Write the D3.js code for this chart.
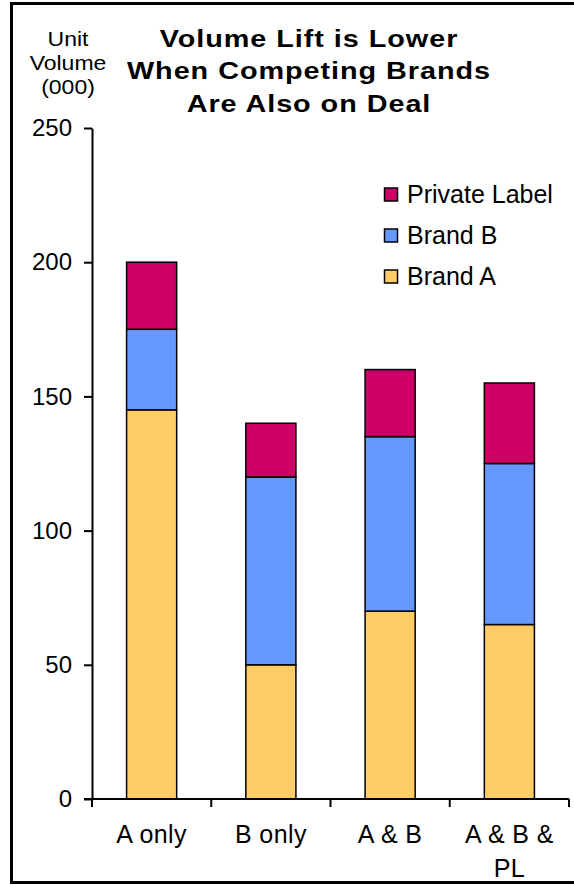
<!DOCTYPE html>
<html><head><meta charset="utf-8">
<script src="https://cdn.jsdelivr.net/npm/d3@7"></script>
<style>body{margin:0;background:#fff}svg{display:block}</style>
</head><body>
<script>
const categories = ["A only", "B only", "A & B", "A & B & PL"];
const brandA = [145, 50, 70, 65];
const brandB = [30, 70, 65, 60];
const privateLabel = [25, 20, 25, 30];
const seriesNames = ["Brand A", "Brand B", "Private Label"];
const seriesColors = ["#FFCC66", "#6699FF", "#CC0066"];
const yTicks = [0, 50, 100, 150, 200, 250];

const W = 574, H = 885;
const svg = d3.select("body").append("svg").attr("width", W).attr("height", H);
const font = "Liberation Sans, Arial, sans-serif";

// border
svg.append("rect").attr("x", 11.5).attr("y", 3.5).attr("width", 580).attr("height", 879)
  .attr("fill", "none").attr("stroke", "#000").attr("stroke-width", 3);

const x = d3.scaleBand().domain(categories).range([92, 569]).paddingInner(0.58).paddingOuter(0.29);
const y = d3.scaleLinear().domain([0, 250]).range([799, 128]);

const rows = categories.map((c, i) => ({cat: c, "Brand A": brandA[i], "Brand B": brandB[i], "Private Label": privateLabel[i]}));
const stack = d3.stack().keys(seriesNames)(rows);

svg.append("g").selectAll("g").data(stack).join("g")
  .attr("fill", (d, i) => seriesColors[i])
  .selectAll("rect").data(d => d).join("rect")
  .attr("x", d => x(d.data.cat))
  .attr("width", x.bandwidth())
  .attr("y", d => y(d[1]))
  .attr("height", d => y(d[0]) - y(d[1]))
  .attr("stroke", "#000").attr("stroke-width", 1.5);

// y axis
const yAxis = svg.append("g").attr("transform", "translate(92,0)")
  .call(d3.axisLeft(y).tickValues(yTicks).tickSize(8).tickPadding(12).tickSizeOuter(0));
yAxis.select(".domain").attr("stroke-width", 2);
yAxis.selectAll(".tick line").attr("stroke-width", 2);
yAxis.selectAll("text").attr("font-family", font).attr("font-size", 24).attr("fill", "#000");

// x axis
const xTickScale = d3.scaleLinear().domain([0, categories.length]).range([92, 569]);
const xg = svg.append("g");
xg.append("line").attr("x1", 84).attr("x2", 569).attr("y1", 799).attr("y2", 799)
  .attr("stroke", "#000").attr("stroke-width", 2);
xg.selectAll("line.t").data(d3.range(categories.length + 1)).join("line").attr("class", "t")
  .attr("x1", d => xTickScale(d)).attr("x2", d => xTickScale(d))
  .attr("y1", 799).attr("y2", 807).attr("stroke", "#000").attr("stroke-width", 2);
const labelLines = {"A & B & PL": ["A & B &", "PL"]};
categories.forEach(c => {
  const lines = labelLines[c] || [c];
  const cx = x(c) + x.bandwidth() / 2;
  const t = svg.append("text").attr("x", cx).attr("y", 843)
    .attr("text-anchor", "middle").attr("font-family", font).attr("font-size", 25)
    .attr("letter-spacing", 0.4);
  lines.forEach((l, j) => t.append("tspan").attr("x", cx).attr("dy", j ? 34 : 0).text(l));
});

// y label (horizontally stretched like the reference)
const ylab = svg.append("text").attr("transform", "translate(68,0) scale(1.18,1)")
  .attr("x", 0).attr("y", 46).attr("text-anchor", "middle")
  .attr("font-family", font).attr("font-size", 19.5);
["Unit", "Volume", "(000)"].forEach((l, j) => ylab.append("tspan").attr("x", 0).attr("dy", j ? 24 : 0).text(l));

// title (horizontally stretched)
const title = svg.append("text").attr("transform", "translate(309,0) scale(1.2,1)")
  .attr("x", 0).attr("y", 47).attr("text-anchor", "middle")
  .attr("font-family", font).attr("font-weight", "bold").attr("font-size", 24).attr("letter-spacing", 0.8);
["Volume Lift is Lower", "When Competing Brands", "Are Also on Deal"].forEach((l, j) =>
  title.append("tspan").attr("x", 0).attr("dy", j ? 32.5 : 0).text(l));

// legend
const legendOrder = [2, 1, 0];
legendOrder.forEach((si, k) => {
  const by = 203 + k * 41;
  svg.append("rect").attr("x", 384.5).attr("y", by - 15).attr("width", 13).attr("height", 13)
    .attr("fill", seriesColors[si]).attr("stroke", "#000").attr("stroke-width", 1.5);
  svg.append("text").attr("x", 407).attr("y", by).attr("font-family", font).attr("font-size", 25)
    .text(seriesNames[si]);
});
</script>
</body></html>
